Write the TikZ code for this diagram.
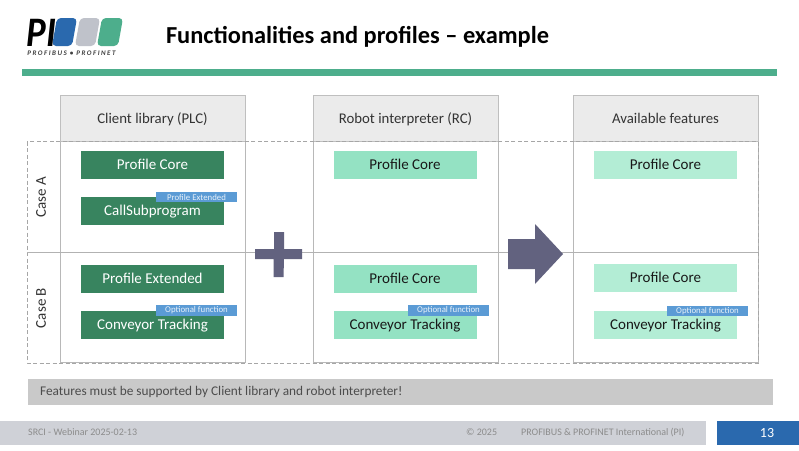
\documentclass[tikz,border=0pt]{standalone}
\usepackage{fontspec}
\setmainfont{Carlito}
\definecolor{pigreen}{HTML}{4DAE8C}
\definecolor{piblue}{HTML}{2A69AE}
\definecolor{pigray}{HTML}{BFC2CA}
\definecolor{darkgreen}{HTML}{38845F}
\definecolor{midgreen}{HTML}{94E2C3}
\definecolor{palegreen}{HTML}{B3EDD5}
\definecolor{tagblue}{HTML}{5B9BD5}
\definecolor{slate}{HTML}{62627F}
\tikzset{
  headbox/.style={fill=black!8, draw=black!25, line width=.8pt, minimum width=185pt, minimum height=46pt, text=black!80, text height=11.5pt, text depth=1.5pt, font=\fontsize{14.8}{16}\selectfont},
  colbox/.style={draw=black!28, line width=.9pt},
  darkbox/.style={fill=darkgreen, text=white, minimum width=143pt, minimum height=28pt, text height=11pt, text depth=2pt, font=\fontsize{15}{17}\selectfont},
  midbox/.style={darkbox, fill=midgreen, text=black!90},
  palebox/.style={darkbox, fill=palegreen, text=black!90},
  tagbox/.style={fill=tagblue, text=white!85!tagblue, minimum width=81pt, minimum height=10.5pt, inner sep=0pt, font=\fontsize{8.8}{10}\selectfont},
  casetext/.style={rotate=90, text=black!80, font=\fontsize{15}{17}\selectfont},
  foottext/.style={anchor=west, text=black!45, inner sep=0pt, font=\fontsize{10}{12}\selectfont},
}
\begin{document}
\begin{tikzpicture}[x=1pt, y=-1pt]
\useasboundingbox (0,0) rectangle (799,450);
\fill[white] (0,0) rectangle (799,450);
% logo
\fill[piblue, rounded corners=4pt] (57,18) -- (77,18) -- (72,46) -- (52,46) -- cycle;
\fill[pigray, rounded corners=4pt] (80,18) -- (100,18) -- (95,46) -- (75,46) -- cycle;
\fill[pigreen, rounded corners=4pt] (102,18) -- (123,18) -- (118,46) -- (97,46) -- cycle;
\node[font=\fontsize{42}{42}\selectfont\bfseries\itshape, inner sep=0pt, text height=28pt, text depth=0pt, xscale=.88, transform shape] (logopi) at (41.5,32) {PI};
\node[font=\fontsize{7}{7}\selectfont\bfseries\itshape\addfontfeature{LetterSpace=21}, text=black!75, inner sep=0pt] (logotext) at (71.5,53) {PROFIBUS • PROFINET};
% title
\node[font=\fontsize{24.4}{26}\selectfont\bfseries, inner sep=0pt] (title) at (357.5,36.5) {Functionalities and profiles – example};
\fill[pigreen] (22,69) rectangle (777,75.5);
% columns
\draw[colbox] (60,141) rectangle (245,362);
\draw[colbox] (313,141) rectangle (498,362);
\draw[colbox] (573,141) rectangle (758,362);
\node[headbox] (headplc) at (152.5,118) {Client library (PLC)};
\node[headbox] (headrc) at (405.5,118) {Robot interpreter (RC)};
\node[headbox] (headfeat) at (665.5,118) {Available features};
% cases
\draw[black!35, line width=.8pt, dash pattern=on 4pt off 2.5pt] (27,141.5) rectangle (758,363);
\draw[black!30, line width=.8pt] (27,252.5) -- (758,252.5);
\node[casetext] (casea) at (41,197) {Case A};
\node[casetext] (caseb) at (41,308) {Case B};
% client library
\node[darkbox] (plccore) at (152.5,165) {Profile Core};
\node[darkbox] (plccall) at (152.5,211) {CallSubprogram};
\node[tagbox] (plctaga) at (196.5,197) {Profile Extended};
\node[darkbox] (plcext) at (152.5,279) {Profile Extended};
\node[darkbox] (plcconv) at (152.5,325) {Conveyor Tracking};
\node[tagbox] (plctagb) at (196.5,310.5) {Optional function};
% robot interpreter
\node[midbox] (rccorea) at (405,165) {Profile Core};
\node[midbox] (rccoreb) at (405,279) {Profile Core};
\node[midbox] (rcconv) at (405,325) {Conveyor Tracking};
\node[tagbox] (rctag) at (448.5,310.5) {Optional function};
% available features
\node[palebox] (featcorea) at (665.5,165) {Profile Core};
\node[palebox] (featcoreb) at (665.5,278) {Profile Core};
\node[palebox] (featconv) at (665.5,325) {Conveyor Tracking};
\node[tagbox] (feattag) at (707.5,311) {Optional function};
% plus and arrow
\fill[slate] (274,232) -- (284,232) -- (284,249) -- (302,249) -- (302,259) -- (284,259) -- (283.5,277) -- (273.5,277) -- (273.5,259) -- (255,259) -- (255,249) -- (274,249) -- cycle;
\fill[slate] (508,239) -- (535,239) -- (535,224) -- (563,254) -- (535,284) -- (535,269) -- (508,269) -- cycle;
% note and footer
\node[fill=black!21, minimum width=745pt, minimum height=25.5pt, inner sep=0pt] (notebar) at (400.5,392) {};
\node[anchor=west, text=black!70, font=\fontsize{13.3}{15}\selectfont, inner sep=0pt] (notetext) at (40,392) {Features must be supported by Client library and robot interpreter!};
\fill[pigray!75!white] (0,421) rectangle (706,445);
\node[foottext] (footdate) at (28,432.5) {SRCI - Webinar 2025-02-13};
\node[foottext] (footyear) at (466,432.5) {© 2025};
\node[foottext] (footorg) at (521,432.5) {PROFIBUS \& PROFINET International (PI)};
\fill[piblue] (717,421) rectangle (799,445);
\node[text=white, font=\fontsize{14}{16}\selectfont, inner sep=0pt] (pagenum) at (767,433) {13};
\end{tikzpicture}
\end{document}
